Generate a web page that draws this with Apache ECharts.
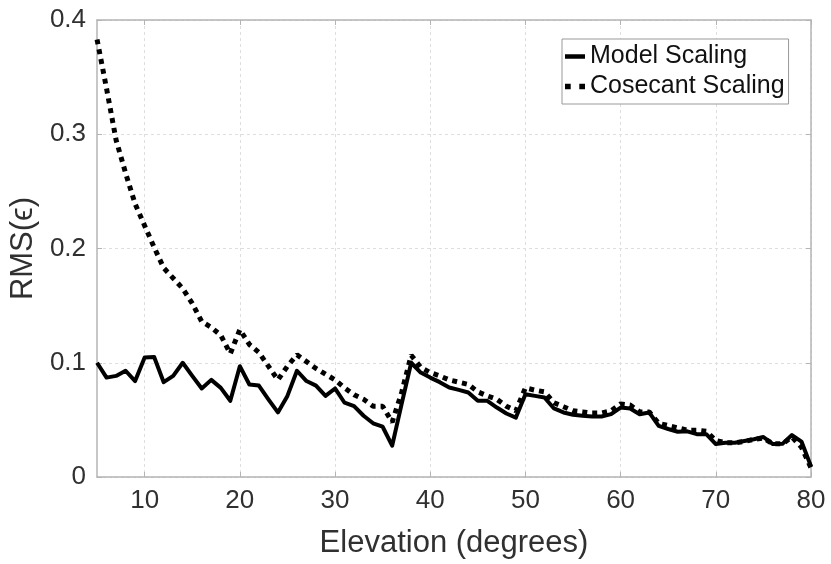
<!DOCTYPE html>
<html>
<head>
<meta charset="utf-8">
<script src="https://cdn.jsdelivr.net/npm/echarts@6/dist/echarts.min.js"></script>
<style>
html,body{margin:0;padding:0;background:#fff;}
#chart{width:831px;height:564px;}
</style>
</head>
<body>
<div id="chart"></div>
<script>
const elevation = [5,6,7,8,9,10,11,12,13,14,15,16,17,18,19,20,21,22,23,24,25,26,27,28,29,30,
  31,32,33,34,35,36,37,38,39,40,41,42,43,44,45,46,47,48,49,50,51,52,53,54,55,
  56,57,58,59,60,61,62,63,64,65,66,67,68,69,70,71,72,73,74,75,76,77,78,79,80];

const modelScaling = [0.100,0.087,0.0885,0.093,0.084,0.1045,0.105,0.083,0.0885,0.100,0.0885,0.0775,0.085,0.078,0.0667,0.097,0.081,0.080,0.068,0.0565,0.071,0.093,0.084,0.080,0.071,0.0775,
  0.065,0.062,0.0536,0.047,0.044,0.0274,0.064,0.100,0.0914,0.087,0.083,0.0783,0.0763,0.074,0.0667,0.0667,0.0608,0.0556,0.052,0.0725,0.071,0.0696,0.060,0.0565,0.0545,
  0.0536,0.053,0.053,0.055,0.0608,0.060,0.055,0.0565,0.0448,0.042,0.0396,0.040,0.0375,0.0375,0.0288,0.030,0.030,0.0315,0.033,0.035,0.0288,0.029,0.0367,0.031,0.0093];

const cosecantScaling = [0.383,0.340,0.295,0.266,0.239,0.220,0.201,0.183,0.174,0.165,0.152,0.136,0.131,0.124,0.108,0.129,0.116,0.109,0.097,0.085,0.097,0.107,0.101,0.095,0.090,0.085,
  0.078,0.072,0.068,0.062,0.062,0.048,0.074,0.1066,0.096,0.0914,0.0885,0.085,0.083,0.081,0.0745,0.071,0.068,0.062,0.058,0.078,0.076,0.0745,0.065,0.0615,0.058,
  0.057,0.056,0.056,0.058,0.064,0.063,0.057,0.057,0.047,0.045,0.043,0.041,0.041,0.040,0.032,0.030,0.030,0.031,0.033,0.034,0.029,0.029,0.035,0.026,0.008];

const xTicks = [10,20,30,40,50,60,70,80];
const seriesNames = ['Model Scaling','Cosecant Scaling'];

const FONT = 'Liberation Sans, Arial, sans-serif';
const frameColor = '#b4b4b4';
const gridColor = '#dedede';
const textColor = '#303030';

const chart = echarts.init(document.getElementById('chart'), null, {renderer:'canvas'});

function zip(xs, ys){ return xs.map((x,i)=>[x, ys[i]]); }

const baseX = {
  type:'value', min:5, max:80,
  axisLine:{show:true, onZero:false, lineStyle:{color:frameColor, width:1.5}},
  axisTick:{show:true, inside:true, length:5, customValues:xTicks, lineStyle:{color:frameColor}},
  splitLine:{show:false}
};
const baseY = {
  type:'value', min:0, max:0.4, interval:0.1,
  axisLine:{show:true, onZero:false, lineStyle:{color:frameColor, width:1.5}},
  axisTick:{show:true, inside:true, length:5, lineStyle:{color:frameColor}},
  splitLine:{show:false}
};

const option = {
  backgroundColor:'#fff',
  animation:false,
  grid:{left:94, right:20, top:20, bottom:86, containLabel:false},
  legend:{
    orient:'vertical', left:562, top:39,
    padding:[5,4,5,3], itemGap:5, itemWidth:20, itemHeight:12,
    backgroundColor:'#fff', borderColor:'#999', borderWidth:1,
    textStyle:{fontSize:25, color:'#111', fontFamily:FONT},
    data:[
      {name:seriesNames[0], icon:'path://M0,0H20V4.5H0Z'},
      {name:seriesNames[1], icon:'path://M0,0H4V4H0Z M10,0H14V4H10Z'}
    ]
  },
  xAxis:[
    Object.assign({}, baseX, {
      position:'bottom',
      name:'Elevation (degrees)', nameLocation:'middle', nameGap:51,
      nameTextStyle:{fontSize:31, color:textColor, fontFamily:FONT},
      axisLabel:{show:true, customValues:xTicks, fontSize:26, color:textColor, fontFamily:FONT, margin:11},
      splitLine:{show:true, lineStyle:{color:gridColor, type:[3,3], width:1}}
    }),
    Object.assign({}, baseX, {position:'top', axisLabel:{show:false}})
  ],
  yAxis:[
    Object.assign({}, baseY, {
      position:'left',
      name:'RMS(ϵ)', nameLocation:'middle', nameGap:53, nameRotate:90,
      nameTextStyle:{fontSize:31, color:textColor, fontFamily:FONT},
      axisLabel:{show:true, fontSize:26, color:textColor, fontFamily:FONT, margin:11,
        formatter:v=>String(Math.round(v*10)/10)},
      splitLine:{show:true, lineStyle:{color:gridColor, type:[3,3], width:1}}
    }),
    Object.assign({}, baseY, {position:'right', axisLabel:{show:false}})
  ],
  series:[
    {
      name:seriesNames[0], type:'line', xAxisIndex:0, yAxisIndex:0,
      data:zip(elevation, modelScaling),
      symbol:'none', smooth:false,
      lineStyle:{color:'#000', width:4, join:'round'},
      itemStyle:{color:'#000'}
    },
    {
      name:seriesNames[1], type:'line', xAxisIndex:0, yAxisIndex:0,
      data:zip(elevation, cosecantScaling),
      symbol:'none', smooth:false,
      lineStyle:{color:'#000', width:5, type:[5,5], cap:'butt'},
      itemStyle:{color:'#000'}
    }
  ]
};
chart.setOption(option);
</script>
</body>
</html>
